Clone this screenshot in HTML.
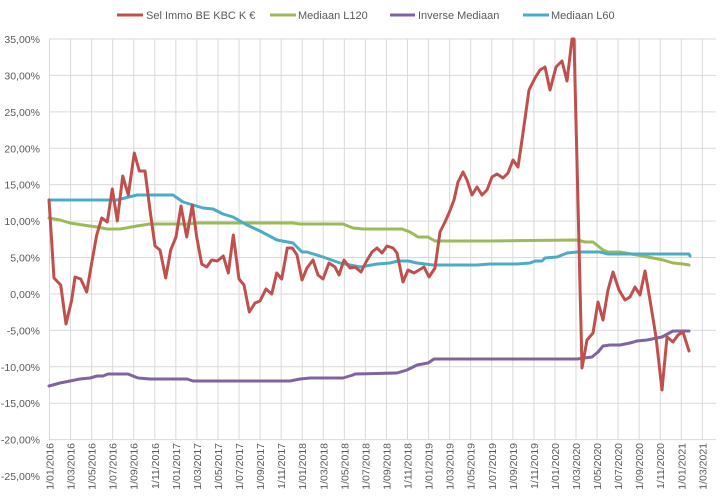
<!DOCTYPE html>
<html><head><meta charset="utf-8"><style>
html,body{margin:0;padding:0;background:#fff}
svg{display:block;font-family:"Liberation Sans",sans-serif}
</style></head><body>
<svg width="726" height="502" viewBox="0 0 726 502" xmlns="http://www.w3.org/2000/svg">
<rect width="726" height="502" fill="#fff"/>
<g stroke="#d9d9d9" stroke-width="1" id="grid"></g>
<g id="ylab" font-size="10.5" fill="#595959" text-anchor="end"></g>
<g id="xlab" font-size="10.5" fill="#595959"></g>
<g fill="none" stroke-width="3" stroke-linejoin="round" stroke-linecap="round">
<polyline stroke="#9BBB59" points="49,218 60,220 70,223 83,225 97,227 107,229 120,229 137,226 150,224 187,224 197,223 293,223 300,224 343,224 353,228 363,229 402,229 410,232 418,237 428,237 435,241 490,241 577,240 585,242 593,242 603,250 608,252 620,252 637,255 653,258 663,260 673,263 683,264 689,265"/>
<polyline stroke="#8064A2" points="49,386 60,383 70,381 80,379 90,378 97,376 103,376 108,374 128,374 138,378 150,379 187,379 193,381 290,381 300,379 310,378 343,378 353,375 355,374 397,373 407,370 417,365 428,363 434,359 577,359 592,357 598,352 603,346 610,345 620,345 630,343 637,341 647,340 662,337 673,331 689,331"/>
<polyline stroke="#4BACC6" points="49,200 117,200 125,198 137,195 173,195 183,202 203,208 213,209 223,214 233,217 247,225 260,231 277,240 293,243 302,252 307,252 323,257 340,263 360,267 377,264 390,263 398,261 408,261 417,263 433,265 477,265 490,264 517,264 530,263 535,261 542,261 545,258 557,257 567,253 577,252 600,252 608,254 689,254 690,256"/>
<polyline stroke="#C0504D" points="49,200 54,278 60.7,285 66,324 71.7,300 75,277 80.7,279 86.7,292 91.7,263 96.7,235 101.7,218 107.3,222 112.3,189 117.3,221 122.7,176 128.3,195 134.3,153 139.3,171 145,171 150,210 155,246 160,250 165.7,278 170.7,250 176,237 181,206 186.7,237 192.3,205 196.7,237 201.7,264 206.7,267 211.7,260 217.3,261 223.3,256 228.3,273 233.3,235 239,279 244,285 249.3,312 255,303 260,301 266,289 271.7,294 276.7,273 281.7,279 287.3,248 292.3,248 297,255 302,280 307,268 313,260 318,275 323,279 329,263 335,267 339,275 344,260 350,268 355,267 361,272 366,262 372,252 377,248 382,253 387,246 393,248 397,253 403,282 408,270 414,273 419,270 424,267 429,277 435,268 440,232 445,222 449,213 454,200 458,182 463,172 467,180 472,195 477,187 482,195 487,190 492,177 497,174 503,178 508,173 513,160 518,167 523,133 529,90 535,78 540,70 545,67 550,90 556,67 562,61 567,81 572,39 574,39 582,368 587,340 593,333 598,302 603,320 608,290 613,272 619,290 625,300 630,297 635,287 640,295 645,271 650,300 656,337 662,390 667,337 673,342 678,335 683,332 689,351"/>
</g>
<g font-size="11" fill="#595959">
<line x1="117" y1="15" x2="143" y2="15" stroke="#C0504D" stroke-width="3"/><text x="146" y="19">Sel Immo BE KBC K €</text>
<line x1="270" y1="15" x2="296" y2="15" stroke="#9BBB59" stroke-width="3"/><text x="298" y="19">Mediaan L120</text>
<line x1="390" y1="15" x2="415" y2="15" stroke="#8064A2" stroke-width="3"/><text x="418" y="19">Inverse Mediaan</text>
<line x1="523" y1="15" x2="549" y2="15" stroke="#4BACC6" stroke-width="3"/><text x="551" y="19">Mediaan L60</text>
</g>
<script>
var ns="http://www.w3.org/2000/svg",g=document.getElementById("grid"),yl=document.getElementById("ylab"),xl=document.getElementById("xlab");
function el(p,t,a,txt){var e=document.createElementNS(ns,t);for(var k in a)e.setAttribute(k,a[k]);if(txt)e.textContent=txt;p.appendChild(e);}
for(var i=0;i<=12;i++){var y=39+i*36.42;if(i<=11)el(g,"line",{x1:49,x2:716,y1:y,y2:y});var v=35-5*i;el(yl,"text",{x:40,y:y+4},(v<0?"-":"")+Math.abs(v).toFixed(2).replace(".",",")+"%");}
for(var k=0;k<=31;k++){var x=49.5+21.06*k;el(g,"line",{x1:x,x2:x,y1:39,y2:439.6});var m=(k*2)%12+1,yr=2016+Math.floor(k/6);var s="1/"+(m<10?"0":"")+m+"/"+yr;el(xl,"text",{x:0,y:0,"text-anchor":"end",transform:"translate("+(x+4)+",443) rotate(-90)"},s);}
</script>
</svg>
</body></html>
